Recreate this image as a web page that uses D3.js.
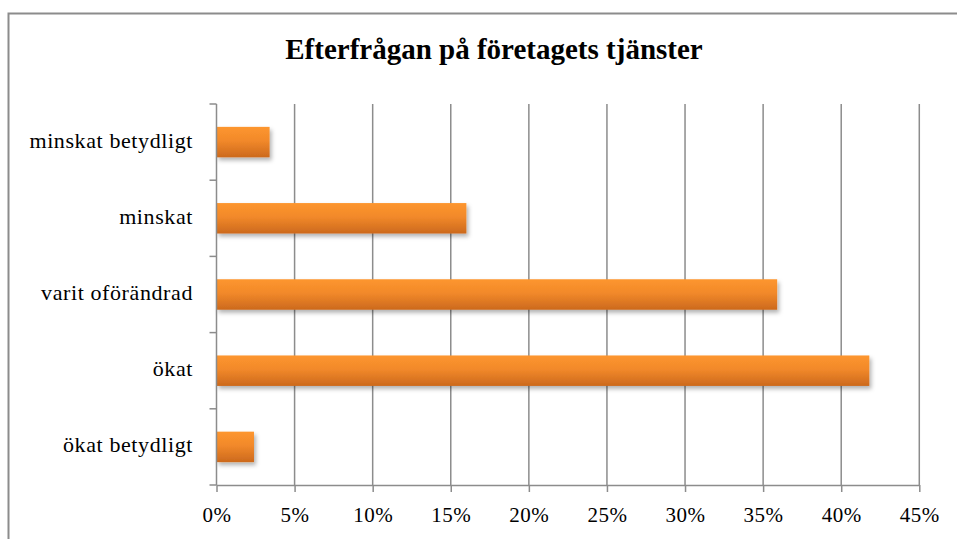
<!DOCTYPE html>
<html>
<head>
<meta charset="utf-8">
<script src="https://cdn.jsdelivr.net/npm/d3@7"></script>
<style>
  body { margin: 0; background: #fff; }
  svg text { font-family: "Liberation Serif", "DejaVu Serif", serif; fill: #000; }
  .grid line { stroke: #8c8c8c; stroke-width: 1.5; }
  .axis path, .axis line { stroke: #8c8c8c; stroke-width: 1.5; }
  .axis .domain { stroke: #8c8c8c; }
</style>
</head>
<body>
<svg class="chart"></svg>
<script>
// DATA
const categories = ['minskat betydligt', 'minskat', 'varit oförändrad', 'ökat', 'ökat betydligt'];
const values = [0.034, 0.16, 0.359, 0.418, 0.024];
const xTicks = [0, 0.05, 0.10, 0.15, 0.20, 0.25, 0.30, 0.35, 0.40, 0.45];
const title = 'Efterfrågan på företagets tjänster';

const size = {w: 957, h: 539};
const plot = {left: 216.5, right: 919.3, top: 104, bottom: 485};

const svg = d3.select('svg.chart')
    .attr('width', size.w)
    .attr('height', size.h);

// gradient + shadow for bars
const defs = svg.append('defs');
const grad = defs.append('linearGradient')
    .attr('id', 'barGrad')
    .attr('x1', 0).attr('y1', 0).attr('x2', 0).attr('y2', 1);
grad.append('stop').attr('offset', '0%').attr('stop-color', '#fd962f');
grad.append('stop').attr('offset', '45%').attr('stop-color', '#f2892a');
grad.append('stop').attr('offset', '100%').attr('stop-color', '#cc691d');

const shadow = defs.append('filter')
    .attr('id', 'shadow')
    .attr('x', '-10%').attr('y', '-30%')
    .attr('width', '130%').attr('height', '180%');
shadow.append('feDropShadow')
    .attr('dx', 2).attr('dy', 3)
    .attr('stdDeviation', 2)
    .attr('flood-color', '#000')
    .attr('flood-opacity', 0.3);

// outer border (runs off the right and bottom)
svg.append('rect')
    .attr('x', 8.5).attr('y', 13.5)
    .attr('width', 980).attr('height', 560)
    .attr('fill', 'none')
    .attr('stroke', '#8c8c8c')
    .attr('stroke-width', 2);

// title
svg.append('text')
    .attr('x', 494).attr('y', 59)
    .attr('text-anchor', 'middle')
    .style('font-size', '29px')
    .style('font-weight', 'bold')
    .text(title);

// SCALES
const x = d3.scaleLinear()
    .domain([0, 0.45])
    .range([plot.left, plot.right]);

const y = d3.scaleBand()
    .domain(categories)
    .range([plot.top, plot.bottom])
    .paddingInner(0.6)
    .paddingOuter(0.3);

// GRIDLINES
svg.append('g').attr('class', 'grid')
    .selectAll('line')
    .data(xTicks.slice(1))
    .enter()
    .append('line')
    .attr('x1', d => x(d)).attr('x2', d => x(d))
    .attr('y1', plot.top).attr('y2', plot.bottom);

// BARS
svg.append('g')
    .selectAll('rect')
    .data(categories)
    .enter()
    .append('rect')
    .attr('x', x(0))
    .attr('y', d => y(d))
    .attr('width', (d, i) => x(values[i]) - x(0))
    .attr('height', y.bandwidth())
    .attr('fill', 'url(#barGrad)')
    .attr('filter', 'url(#shadow)');

// X AXIS
const xAxis = svg.append('g')
    .attr('class', 'axis')
    .attr('transform', `translate(0,${plot.bottom})`)
    .call(d3.axisBottom(x)
        .tickValues(xTicks)
        .tickFormat(d3.format('.0%'))
        .tickSize(7)
        .tickSizeOuter(0)
        .tickPadding(15));
xAxis.selectAll('text')
    .style('font-size', '21px')
    .style('letter-spacing', '0.5px');

// Y AXIS: ticks sit on band boundaries, labels at band centres
const yAxisG = svg.append('g').attr('class', 'axis');
yAxisG.append('line')
    .attr('x1', plot.left).attr('x2', plot.left)
    .attr('y1', plot.top).attr('y2', plot.bottom);
const step = (plot.bottom - plot.top) / categories.length;
yAxisG.selectAll('line.tick')
    .data(d3.range(categories.length + 1))
    .enter()
    .append('line')
    .attr('class', 'tick')
    .attr('x1', plot.left - 7).attr('x2', plot.left)
    .attr('y1', d => plot.top + d * step)
    .attr('y2', d => plot.top + d * step);
yAxisG.selectAll('text')
    .data(categories)
    .enter()
    .append('text')
    .attr('x', 193)
    .attr('y', d => y(d) + y.bandwidth() / 2)
    .attr('dy', '0.25em')
    .attr('text-anchor', 'end')
    .style('font-size', '22px')
    .style('letter-spacing', '0.6px')
    .text(d => d);
</script>
</body>
</html>
